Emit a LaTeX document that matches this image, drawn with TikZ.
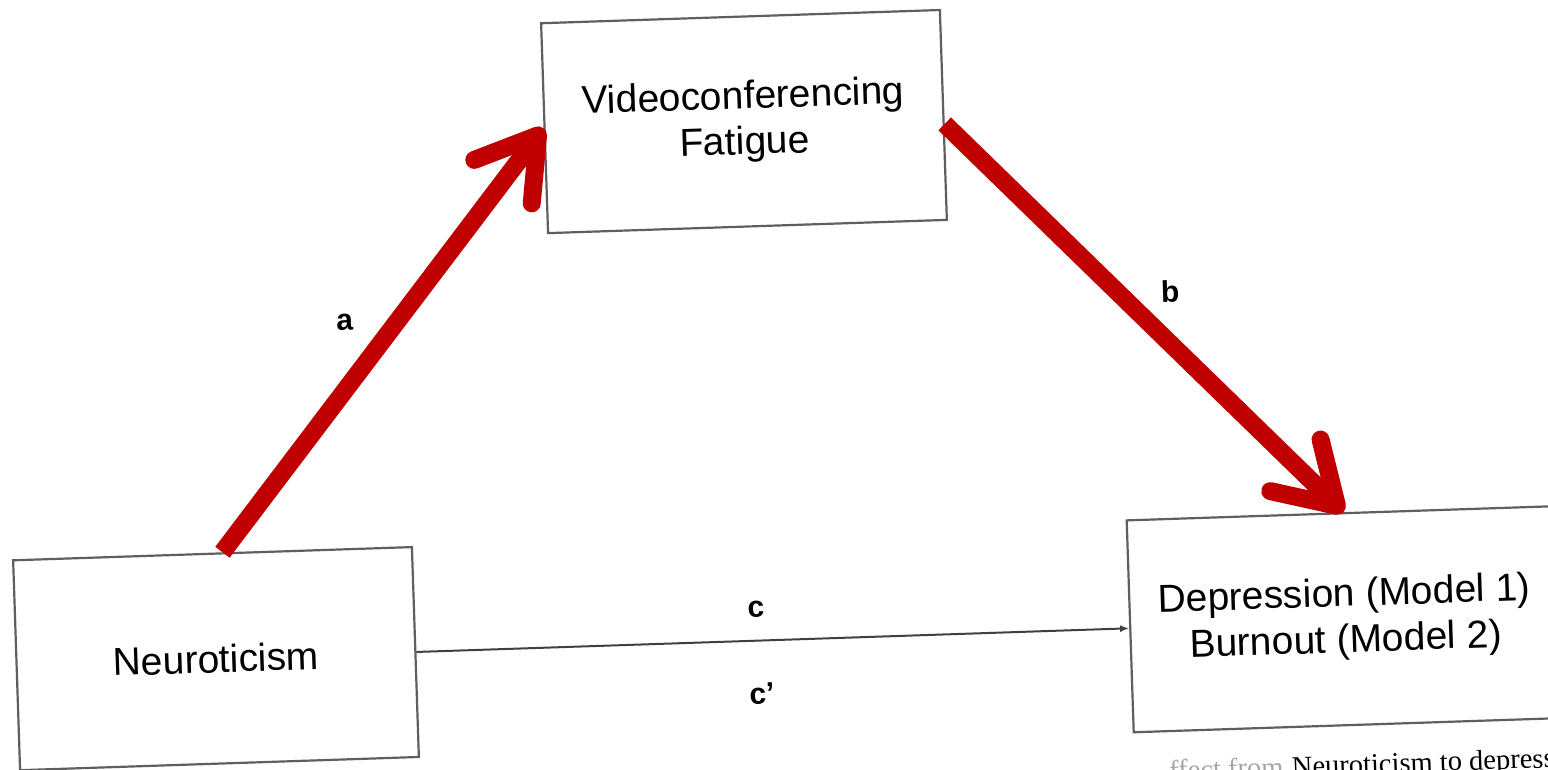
\documentclass[tikz,border=0pt]{standalone}
\usepackage{fontspec}
\setmainfont{Liberation Sans}
\newfontfamily\capfont{Liberation Serif}
\usetikzlibrary{arrows.meta}
\definecolor{arrowred}{RGB}{192,0,0}
\definecolor{boxgray}{RGB}{95,95,95}
\begin{document}
\begin{tikzpicture}[x=1pt,y=-1pt,
  box/.style={draw=boxgray, line width=2.2pt, minimum width=399pt, minimum height=210pt,
    inner sep=0pt, align=center, font=\fontsize{39}{46}\selectfont},
  lbl/.style={font=\fontsize{30}{36}\selectfont\bfseries, inner sep=1pt},
  redarrow/.style={draw=arrowred, line width=18pt,
    -{Straight Barb[length=58pt,width=72pt,round]}},
  thinarrow/.style={draw=black!75, line width=2pt, -{Latex[length=9pt,width=7pt]}},
  captext/.style={font=\capfont\fontsize{28.5}{34}\selectfont, inner sep=0pt, rotate=1.9}]
\useasboundingbox (0,0) rectangle (1548,769);
\fill[white] (0,0) rectangle (1548,769);
\begin{scope}[rotate around={1.9:(774,384.5)}, transform shape]
  \node[box] (neu) at (207.2,640) {Neuroticism};
  \node[box] (vid) at (752.7,120.7) {Videoconferencing\\Fatigue};
  \node[box, minimum width=430pt, minimum height=212pt] (dep) at (1337,638)
    {Depression (Model 1)\\Burnout (Model 2)};
  \draw[redarrow] ([xshift=10pt]neu.north) -- (vid.west);
  \draw[redarrow] ([yshift=-9pt]vid.east) -- ([xshift=2pt]dep.north);
  \draw[thinarrow] (neu.east) -- (neu.east -| dep.west);
  \node[lbl] (la) at (347,308) {a};
  \node[lbl] (lb) at (1173,305) {b};
  \node[lbl] (lc) at (748.6,608.3) {c};
  \node[lbl] (lcp) at (751.7,693.4) {c’};
\end{scope}
\node[captext, anchor=base west] (cap2) at (1292,776) {Neuroticism to depress};
\node[captext, anchor=base east, text=black!35] (cap1) at (1284,776.3) {ffect from};
\end{tikzpicture}
\end{document}
